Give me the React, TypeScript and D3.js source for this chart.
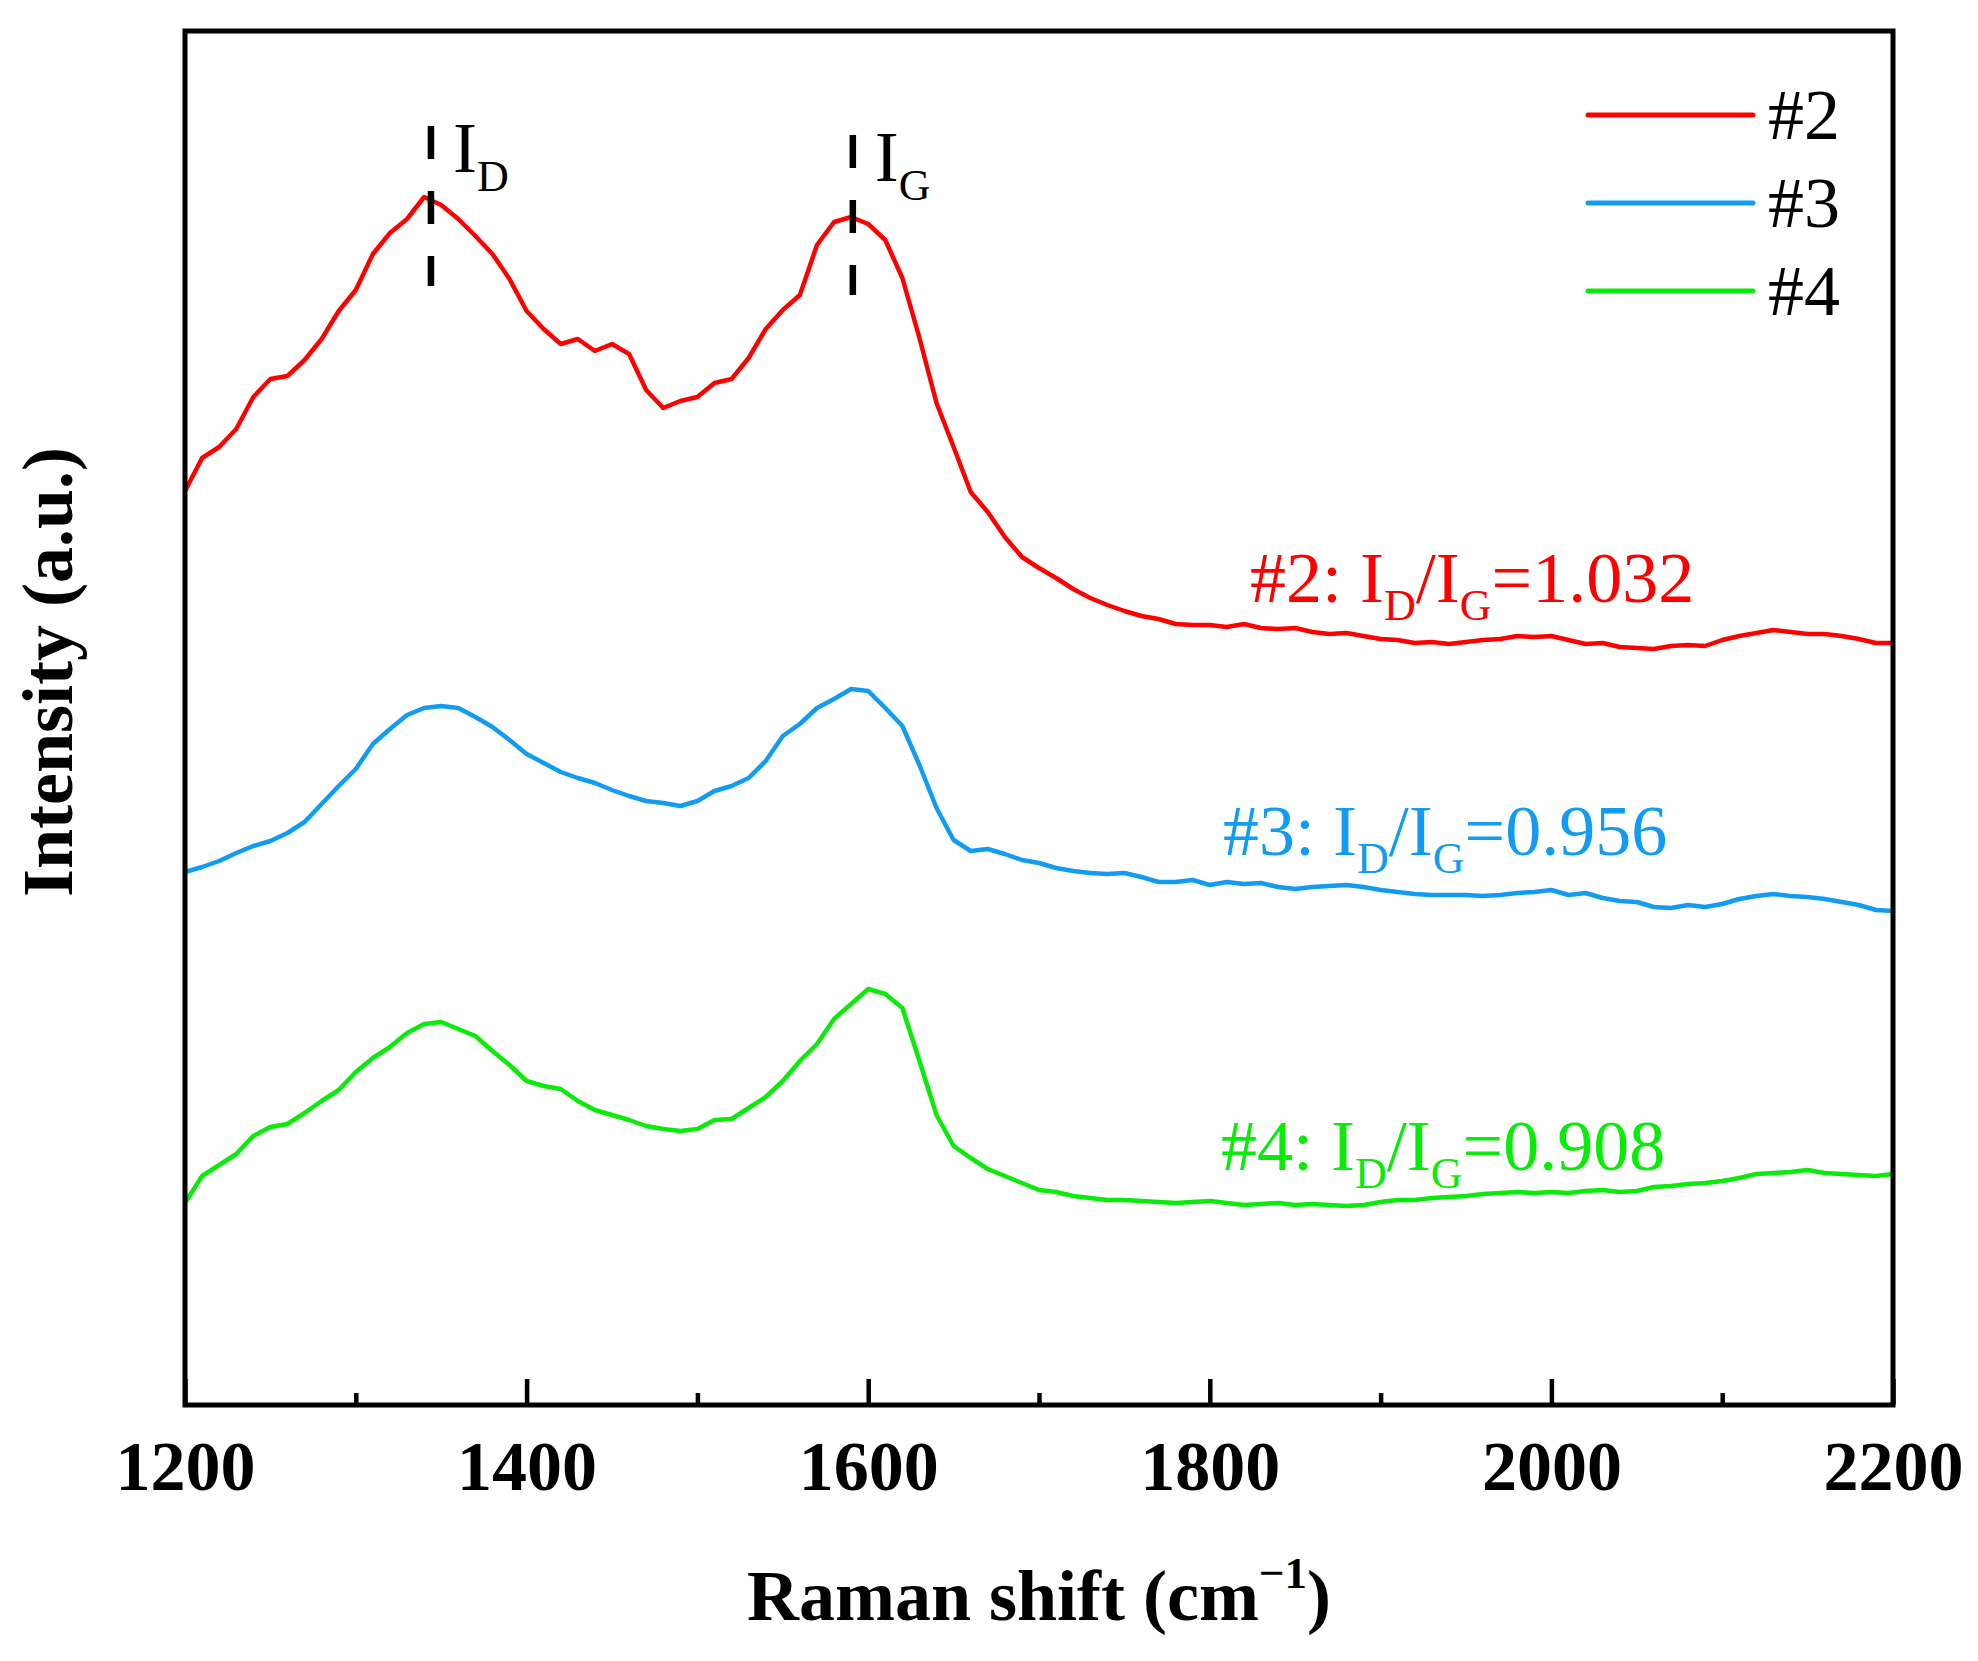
import { useEffect, useRef } from "react"
import * as d3 from "d3"

const wavenumbers = [
  1200, 1210, 1220, 1230, 1240, 1250, 1260, 1270, 1280, 1290,
  1300, 1310, 1320, 1330, 1340, 1350, 1360, 1370, 1380, 1390,
  1400, 1410, 1420, 1430, 1440, 1450, 1460, 1470, 1480, 1490,
  1500, 1510, 1520, 1530, 1540, 1550, 1560, 1570, 1580, 1590,
  1600, 1610, 1620, 1630, 1640, 1650, 1660, 1670, 1680, 1690,
  1700, 1710, 1720, 1730, 1740, 1750, 1760, 1770, 1780, 1790,
  1800, 1810, 1820, 1830, 1840, 1850, 1860, 1870, 1880, 1890,
  1900, 1910, 1920, 1930, 1940, 1950, 1960, 1970, 1980, 1990,
  2000, 2010, 2020, 2030, 2040, 2050, 2060, 2070, 2080, 2090,
  2100, 2110, 2120, 2130, 2140, 2150, 2160, 2170, 2180, 2190,
  2200,
]

const sample2 = [
  914, 947, 958, 976, 1008, 1026, 1029, 1045, 1066, 1094,
  1115, 1151, 1172, 1186, 1208, 1200, 1186, 1169, 1151, 1126,
  1094, 1076, 1061, 1066, 1054, 1061, 1051, 1015, 997, 1004,
  1008, 1022, 1026, 1047, 1076, 1095, 1110, 1160, 1183, 1188,
  1181, 1165, 1127, 1067, 1002, 958, 913, 893, 868, 848,
  837, 827, 816, 807, 800, 794, 789, 786, 781, 780,
  780, 778, 781, 777, 776, 777, 773, 771, 772, 769,
  766, 765, 762, 763, 761, 763, 765, 766, 769, 768,
  769, 765, 761, 762, 758, 757, 756, 759, 760, 759,
  765, 769, 772, 775, 773, 771, 771, 769, 766, 762,
  762,
]

const sample3 = [
  533, 538, 544, 552, 559, 564, 572, 583, 601, 619,
  636, 661, 676, 690, 697, 699, 697, 688, 678, 665,
  651, 642, 633, 627, 622, 615, 609, 604, 602, 599,
  604, 614, 619, 627, 644, 669, 681, 697, 706, 716,
  714, 697, 679, 640, 597, 565, 554, 556, 551, 545,
  542, 537, 534, 532, 531, 532, 528, 523, 523, 525,
  520, 523, 521, 522, 518, 516, 518, 519, 520, 518,
  515, 513, 511, 510, 510, 510, 509, 510, 512, 513,
  515, 510, 512, 507, 504, 503, 498, 497, 500, 498,
  501, 506, 509, 511, 509, 508, 506, 503, 500, 495,
  494,
]

const sample4 = [
  202, 229, 240, 251, 269, 278, 281, 292, 304, 315,
  333, 347, 358, 372, 381, 383, 376, 369, 354, 340,
  324, 319, 316, 304, 295, 290, 285, 279, 276, 274,
  276, 285, 286, 297, 308, 324, 344, 361, 386, 401,
  416, 411, 397, 344, 290, 259, 247, 236, 229, 222,
  215, 213, 209, 207, 205, 205, 204, 203, 202, 203,
  204, 202, 200, 201, 202, 200, 201, 200, 199, 200,
  203, 205, 205, 207, 208, 209, 211, 212, 213, 212,
  213, 212, 214, 215, 213, 214, 218, 219, 221, 222,
  224, 227, 231, 232, 233, 235, 232, 231, 230, 229,
  231,
]

const seriesNames = ["#2", "#3", "#4"]
const seriesColors = ["#ff0000", "#119cf2", "#0aeb0a"]
const ratios = ["1.032", "0.956", "0.908"]
const peakPositions = [1344, 1591]
const peakNames = ["D", "G"]
const majorTicks = [1200, 1400, 1600, 1800, 2000, 2200]
const minorTicks = [1300, 1500, 1700, 1900, 2100]

const WIDTH = 1978
const HEIGHT = 1661
const FONT = "'Liberation Serif', 'Times New Roman', serif"

export default function App() {
  const svgRef = useRef<SVGSVGElement>(null)

  useEffect(() => {
    if (!svgRef.current) return
    const svg = d3.select(svgRef.current)
    svg.selectAll("*").remove()

    const margin = { top: 31, right: 85, bottom: 256, left: 185 }
    const innerWidth = WIDTH - margin.left - margin.right
    const innerHeight = HEIGHT - margin.top - margin.bottom

    const x = d3.scaleLinear().domain([1200, 2200]).range([0, innerWidth])
    const y = d3.scaleLinear().domain([0, 1374]).range([innerHeight, 0])

    const g = svg.append("g").attr("transform", `translate(${margin.left}, ${margin.top})`)

    const series = [sample2, sample3, sample4]

    // spectra
    const line = d3
      .line<number>()
      .x((_, i) => x(wavenumbers[i]))
      .y((d) => y(d))

    series.forEach((values, i) => {
      g.append("path")
        .datum(values)
        .attr("d", line)
        .attr("fill", "none")
        .attr("stroke", seriesColors[i])
        .attr("stroke-width", 4.5)
        .attr("stroke-linejoin", "round")
    })

    // ticks (inward)
    const axis = g
      .append("g")
      .attr("transform", `translate(0, ${innerHeight})`)
      .call(d3.axisBottom(x).tickValues(majorTicks).tickSize(-26).tickFormat(d3.format("d")))
    axis.select(".domain").remove()
    axis.selectAll(".tick line").attr("stroke", "#000").attr("stroke-width", 4.5)
    axis
      .selectAll(".tick text")
      .attr("y", 85)
      .attr("dy", null)
      .attr("fill", "#000")
      .attr("font-family", FONT)
      .attr("font-weight", "bold")
      .attr("font-size", 70)

    const minor = g
      .append("g")
      .attr("transform", `translate(0, ${innerHeight})`)
      .call(d3.axisBottom(x).tickValues(minorTicks).tickSize(-12).tickFormat(() => ""))
    minor.select(".domain").remove()
    minor.selectAll(".tick line").attr("stroke", "#000").attr("stroke-width", 4.5)

    // frame
    g.append("rect")
      .attr("x", 0)
      .attr("y", 0)
      .attr("width", innerWidth)
      .attr("height", innerHeight)
      .attr("fill", "none")
      .attr("stroke", "#000")
      .attr("stroke-width", 5)

    // peak markers
    const markerTop = [95, 104]
    peakPositions.forEach((p, i) => {
      g.append("line")
        .attr("x1", x(p))
        .attr("x2", x(p))
        .attr("y1", markerTop[i])
        .attr("y2", markerTop[i] + 160)
        .attr("stroke", "#000")
        .attr("stroke-width", 6.5)
        .attr("stroke-dasharray", "33 32")

      const t = g
        .append("text")
        .attr("x", x(p) + 22)
        .attr("y", markerTop[i] + 46)
        .attr("font-family", FONT)
        .attr("font-size", 72)
        .attr("fill", "#000")
      t.append("tspan").text("I")
      t.append("tspan").attr("dy", 19).attr("font-size", 44).text(peakNames[i])
    })

    // ratio annotations
    const annX = [1250, 1223, 1221]
    const annY = [602, 855, 1170]
    series.forEach((_, i) => {
      const t = svg
        .append("text")
        .attr("x", annX[i])
        .attr("y", annY[i])
        .attr("font-family", FONT)
        .attr("font-size", 72)
        .attr("fill", seriesColors[i])
      t.append("tspan").text(`${seriesNames[i]}: I`)
      t.append("tspan").attr("dy", 18).attr("font-size", 44).text("D")
      t.append("tspan").attr("dy", -18).text("/I")
      t.append("tspan").attr("dy", 18).attr("font-size", 44).text("G")
      t.append("tspan").attr("dy", -18).text(`=${ratios[i]}`)
    })

    // legend
    const legend = svg.append("g").attr("transform", "translate(1588, 115)")
    seriesNames.forEach((name, i) => {
      const row = legend.append("g").attr("transform", `translate(0, ${i * 88})`)
      row
        .append("line")
        .attr("x1", 0)
        .attr("x2", 165)
        .attr("y1", 0)
        .attr("y2", 0)
        .attr("stroke", seriesColors[i])
        .attr("stroke-width", 5)
        .attr("stroke-linecap", "round")
      row
        .append("text")
        .attr("x", 180)
        .attr("y", 24)
        .attr("font-family", FONT)
        .attr("font-size", 72)
        .attr("fill", "#000")
        .text(name)
    })

    // axis titles
    const xTitle = svg
      .append("text")
      .attr("x", margin.left + innerWidth / 2)
      .attr("y", 1620)
      .attr("text-anchor", "middle")
      .attr("font-family", FONT)
      .attr("font-weight", "bold")
      .attr("font-size", 72)
      .attr("fill", "#000")
    xTitle.append("tspan").text("Raman shift (cm")
    xTitle.append("tspan").attr("dy", -32).attr("font-size", 45).text("\u22121")
    xTitle.append("tspan").attr("dy", 32).text(")")

    svg
      .append("text")
      .attr("transform", "translate(72, 672) rotate(-90)")
      .attr("text-anchor", "middle")
      .attr("font-family", FONT)
      .attr("font-weight", "bold")
      .attr("font-size", 72)
      .attr("fill", "#000")
      .text("Intensity (a.u.)")
  }, [])

  return (
    <svg
      ref={svgRef}
      width={WIDTH}
      height={HEIGHT}
      style={{ position: "absolute", left: 0, top: 0, background: "#fff" }}
    />
  )
}
